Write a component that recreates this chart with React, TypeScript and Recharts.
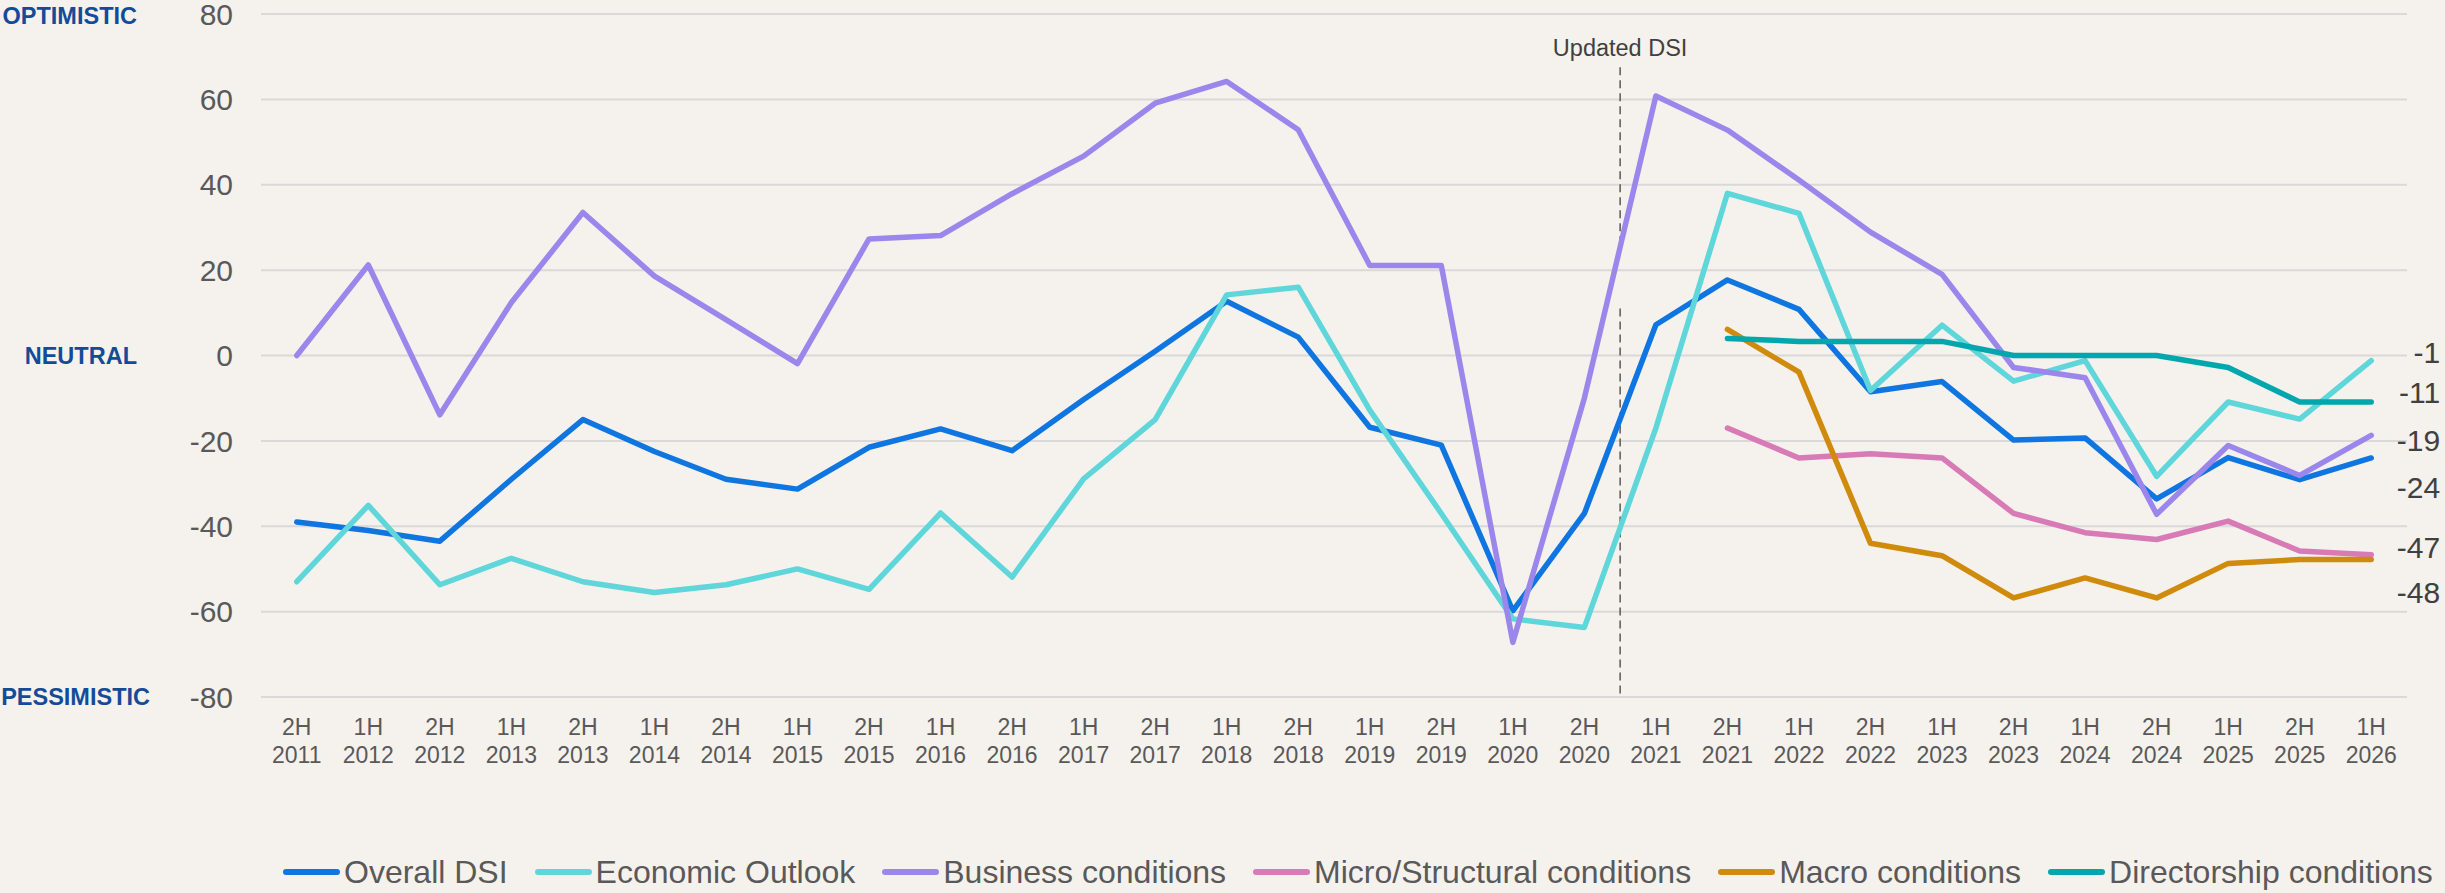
import { CartesianGrid, Legend, Line, LineChart, ReferenceLine, XAxis, YAxis } from "recharts";

const CATEGORIES = [
  "2H 2011", "1H 2012", "2H 2012", "1H 2013", "2H 2013", "1H 2014", "2H 2014", "1H 2015",
  "2H 2015", "1H 2016", "2H 2016", "1H 2017", "2H 2017", "1H 2018", "2H 2018", "1H 2019",
  "2H 2019", "1H 2020", "2H 2020", "1H 2021", "2H 2021", "1H 2022", "2H 2022", "1H 2023",
  "2H 2023", "1H 2024", "2H 2024", "1H 2025", "2H 2025", "1H 2026",
];

const OVERALL = [
  -39, -41, -43.5, -29, -15, -22.5, -29, -31.3, -21.5, -17.2, -22.3, -10.3, 1, 12.7, 4.3,
  -16.8, -21, -59.8, -37, 7.2, 17.7, 10.8, -8.5, -6.1, -19.8, -19.3, -33.6, -23.9, -29.1, -24,
];
const ECONOMIC = [
  -53, -35.1, -53.7, -47.5, -53, -55.5, -53.7, -50, -54.8, -36.9, -51.9, -28.9, -15, 14.2, 16,
  -12.8, -37, -61.7, -63.7, -17, 38, 33.3, -8.2, 7.1, -6, -1.2, -28.3, -10.9, -14.9, -1.2,
];
const BUSINESS = [
  0, 21.2, -13.9, 12.4, 33.5, 18.6, 8.4, -1.9, 27.3, 28.1, 37.9, 46.7, 59.1, 64.2, 52.9,
  21.1, 21.1, -67.2, -10, 60.8, 52.8, 41.1, 28.9, 19, -2.8, -5.2, -37.2, -21.1, -28.1, -18.7,
];
const MICRO = [
  null, null, null, null, null, null, null, null, null, null, null, null, null, null, null,
  null, null, null, null, null, -17, -24, -23, -24, -37, -41.5, -43.1, -38.8, -45.8, -46.7,
];
const MACRO = [
  null, null, null, null, null, null, null, null, null, null, null, null, null, null, null,
  null, null, null, null, null, 6.1, -3.9, -44, -46.9, -56.8, -52.1, -56.8, -48.7, -47.8, -47.8,
];
const DIRECTORSHIP = [
  null, null, null, null, null, null, null, null, null, null, null, null, null, null, null,
  null, null, null, null, null, 4, 3.3, 3.3, 3.3, 0, 0, 0, -2.8, -10.9, -10.9,
];

const Y_TICKS = [-80, -60, -40, -20, 0, 20, 40, 60, 80];
const SIDE_LABELS: Record<number, string> = { 80: "OPTIMISTIC", 0: "NEUTRAL", [-80]: "PESSIMISTIC" };

const SERIES = [
  { key: "overall", name: "Overall DSI", color: "#0f75e0", labelDy: 30 },
  { key: "economic", name: "Economic Outlook", color: "#5fd6da", labelDy: -8 },
  { key: "business", name: "Business conditions", color: "#9b86ec", labelDy: 5 },
  { key: "micro", name: "Micro/Structural conditions", color: "#d87ab6", labelDy: -7 },
  { key: "macro", name: "Macro conditions", color: "#d08a0c", labelDy: 33 },
  { key: "directorship", name: "Directorship conditions", color: "#02a7ae", labelDy: -10 },
];

const data = CATEGORIES.map((period, i) => ({
  period,
  idx: i,
  overall: OVERALL[i],
  economic: ECONOMIC[i],
  business: BUSINESS[i],
  micro: MICRO[i],
  macro: MACRO[i],
  directorship: DIRECTORSHIP[i],
}));

const TEXT = "#595959";
const BG = "#f5f1ed";
const HALF_BAND = 2146 / CATEGORIES.length / 2;

function XTick({ x, y, payload }: any) {
  const [half, year] = String(payload.value).split(" ");
  return (
    <text x={x} y={y} textAnchor="middle" fill={TEXT} fontSize={23}>
      <tspan x={x} dy={38}>{half}</tspan>
      <tspan x={x} dy={28}>{year}</tspan>
    </text>
  );
}

function YTick({ x, y, payload }: any) {
  const side = SIDE_LABELS[payload.value];
  return (
    <g>
      <text x={x} y={y} dy="0.355em" textAnchor="end" fill={TEXT} fontSize={30}>
        {payload.value}
      </text>
      {side ? (
        <text
          x={payload.value === -80 ? x - 83 : x - 96}
          y={payload.value === 80 ? y + 2 : y}
          dy="0.355em"
          textAnchor="end"
          fill="#144b98"
          fontSize={23.5}
          fontWeight="bold"
        >
          {side}
        </text>
      ) : null}
    </g>
  );
}

function endLabel(dyOffset: number) {
  return function EndLabel(props: any) {
    if (props.index !== CATEGORIES.length - 1 || props.value == null) return null;
    const x = props.x ?? props.viewBox?.x;
    const y = props.y ?? props.viewBox?.y;
    return (
      <text x={x + 69} y={y + dyOffset} textAnchor="end" dominantBaseline="central" fill="#404040" fontSize={30}>
        {Math.round(Number(props.value))}
      </text>
    );
  };
}

function LegendContent() {
  return (
    <div style={{ display: "flex", alignItems: "center", height: 52, paddingLeft: 283 }}>
      {SERIES.map((s) => (
        <div key={s.key} style={{ display: "flex", alignItems: "center", marginRight: 27 }}>
          <span
            style={{ display: "inline-block", width: 57, height: 6, borderRadius: 3, background: s.color, marginRight: 4 }}
          />
          <span style={{ fontSize: 32, color: TEXT, whiteSpace: "nowrap" }}>{s.name}</span>
        </div>
      ))}
    </div>
  );
}

export default function App() {
  return (
    <div
      style={{
        width: 2445,
        height: 893,
        background: BG,
        fontFamily: '"Liberation Sans", Arial, sans-serif',
      }}
    >
      <style>{"body{margin:0}"}</style>
      <LineChart width={2445} height={893} data={data} margin={{ top: 14, right: 38, left: 201, bottom: 166 }}>
        <CartesianGrid stroke="#d9d9d9" strokeWidth={2} vertical={false} />
        <XAxis
          dataKey="period"
          interval={0}
          height={30}
          tick={<XTick />}
          tickLine={false}
          axisLine={false}
          tickSize={0}
          tickMargin={0}
          padding={{ left: HALF_BAND, right: HALF_BAND }}
        />
        <XAxis xAxisId="num" type="number" dataKey="idx" domain={[-0.5, 29.5]} allowDataOverflow hide />
        <YAxis
          domain={[-80, 80]}
          ticks={Y_TICKS}
          interval={0}
          width={60}
          tick={<YTick />}
          tickLine={false}
          axisLine={false}
          tickSize={0}
          tickMargin={28}
        />
        <ReferenceLine
          xAxisId="num"
          segment={[
            { x: 18.5, y: 67.5 },
            { x: 18.5, y: 23.5 },
          ]}
          stroke="#595959"
          strokeWidth={1.5}
          strokeDasharray="8 5"
          label={{ value: "Updated DSI", position: "top", offset: 11, fill: "#404040", fontSize: 23.5 }}
        />
        <ReferenceLine
          xAxisId="num"
          segment={[
            { x: 18.5, y: 11 },
            { x: 18.5, y: -79.5 },
          ]}
          stroke="#595959"
          strokeWidth={1.5}
          strokeDasharray="8 5"
        />
        {SERIES.map((s) => (
          <Line
            key={s.key}
            type="linear"
            dataKey={s.key}
            name={s.name}
            stroke={s.color}
            strokeWidth={5.5}
            strokeLinecap="round"
            strokeLinejoin="round"
            dot={false}
            activeDot={false}
            isAnimationActive={false}
            label={endLabel(s.labelDy)}
          />
        ))}
        <Legend
          layout="horizontal"
          verticalAlign="middle"
          align="center"
          content={<LegendContent />}
          wrapperStyle={{ top: 846, left: 0, width: 2445, height: 52 }}
        />
      </LineChart>
    </div>
  );
}
